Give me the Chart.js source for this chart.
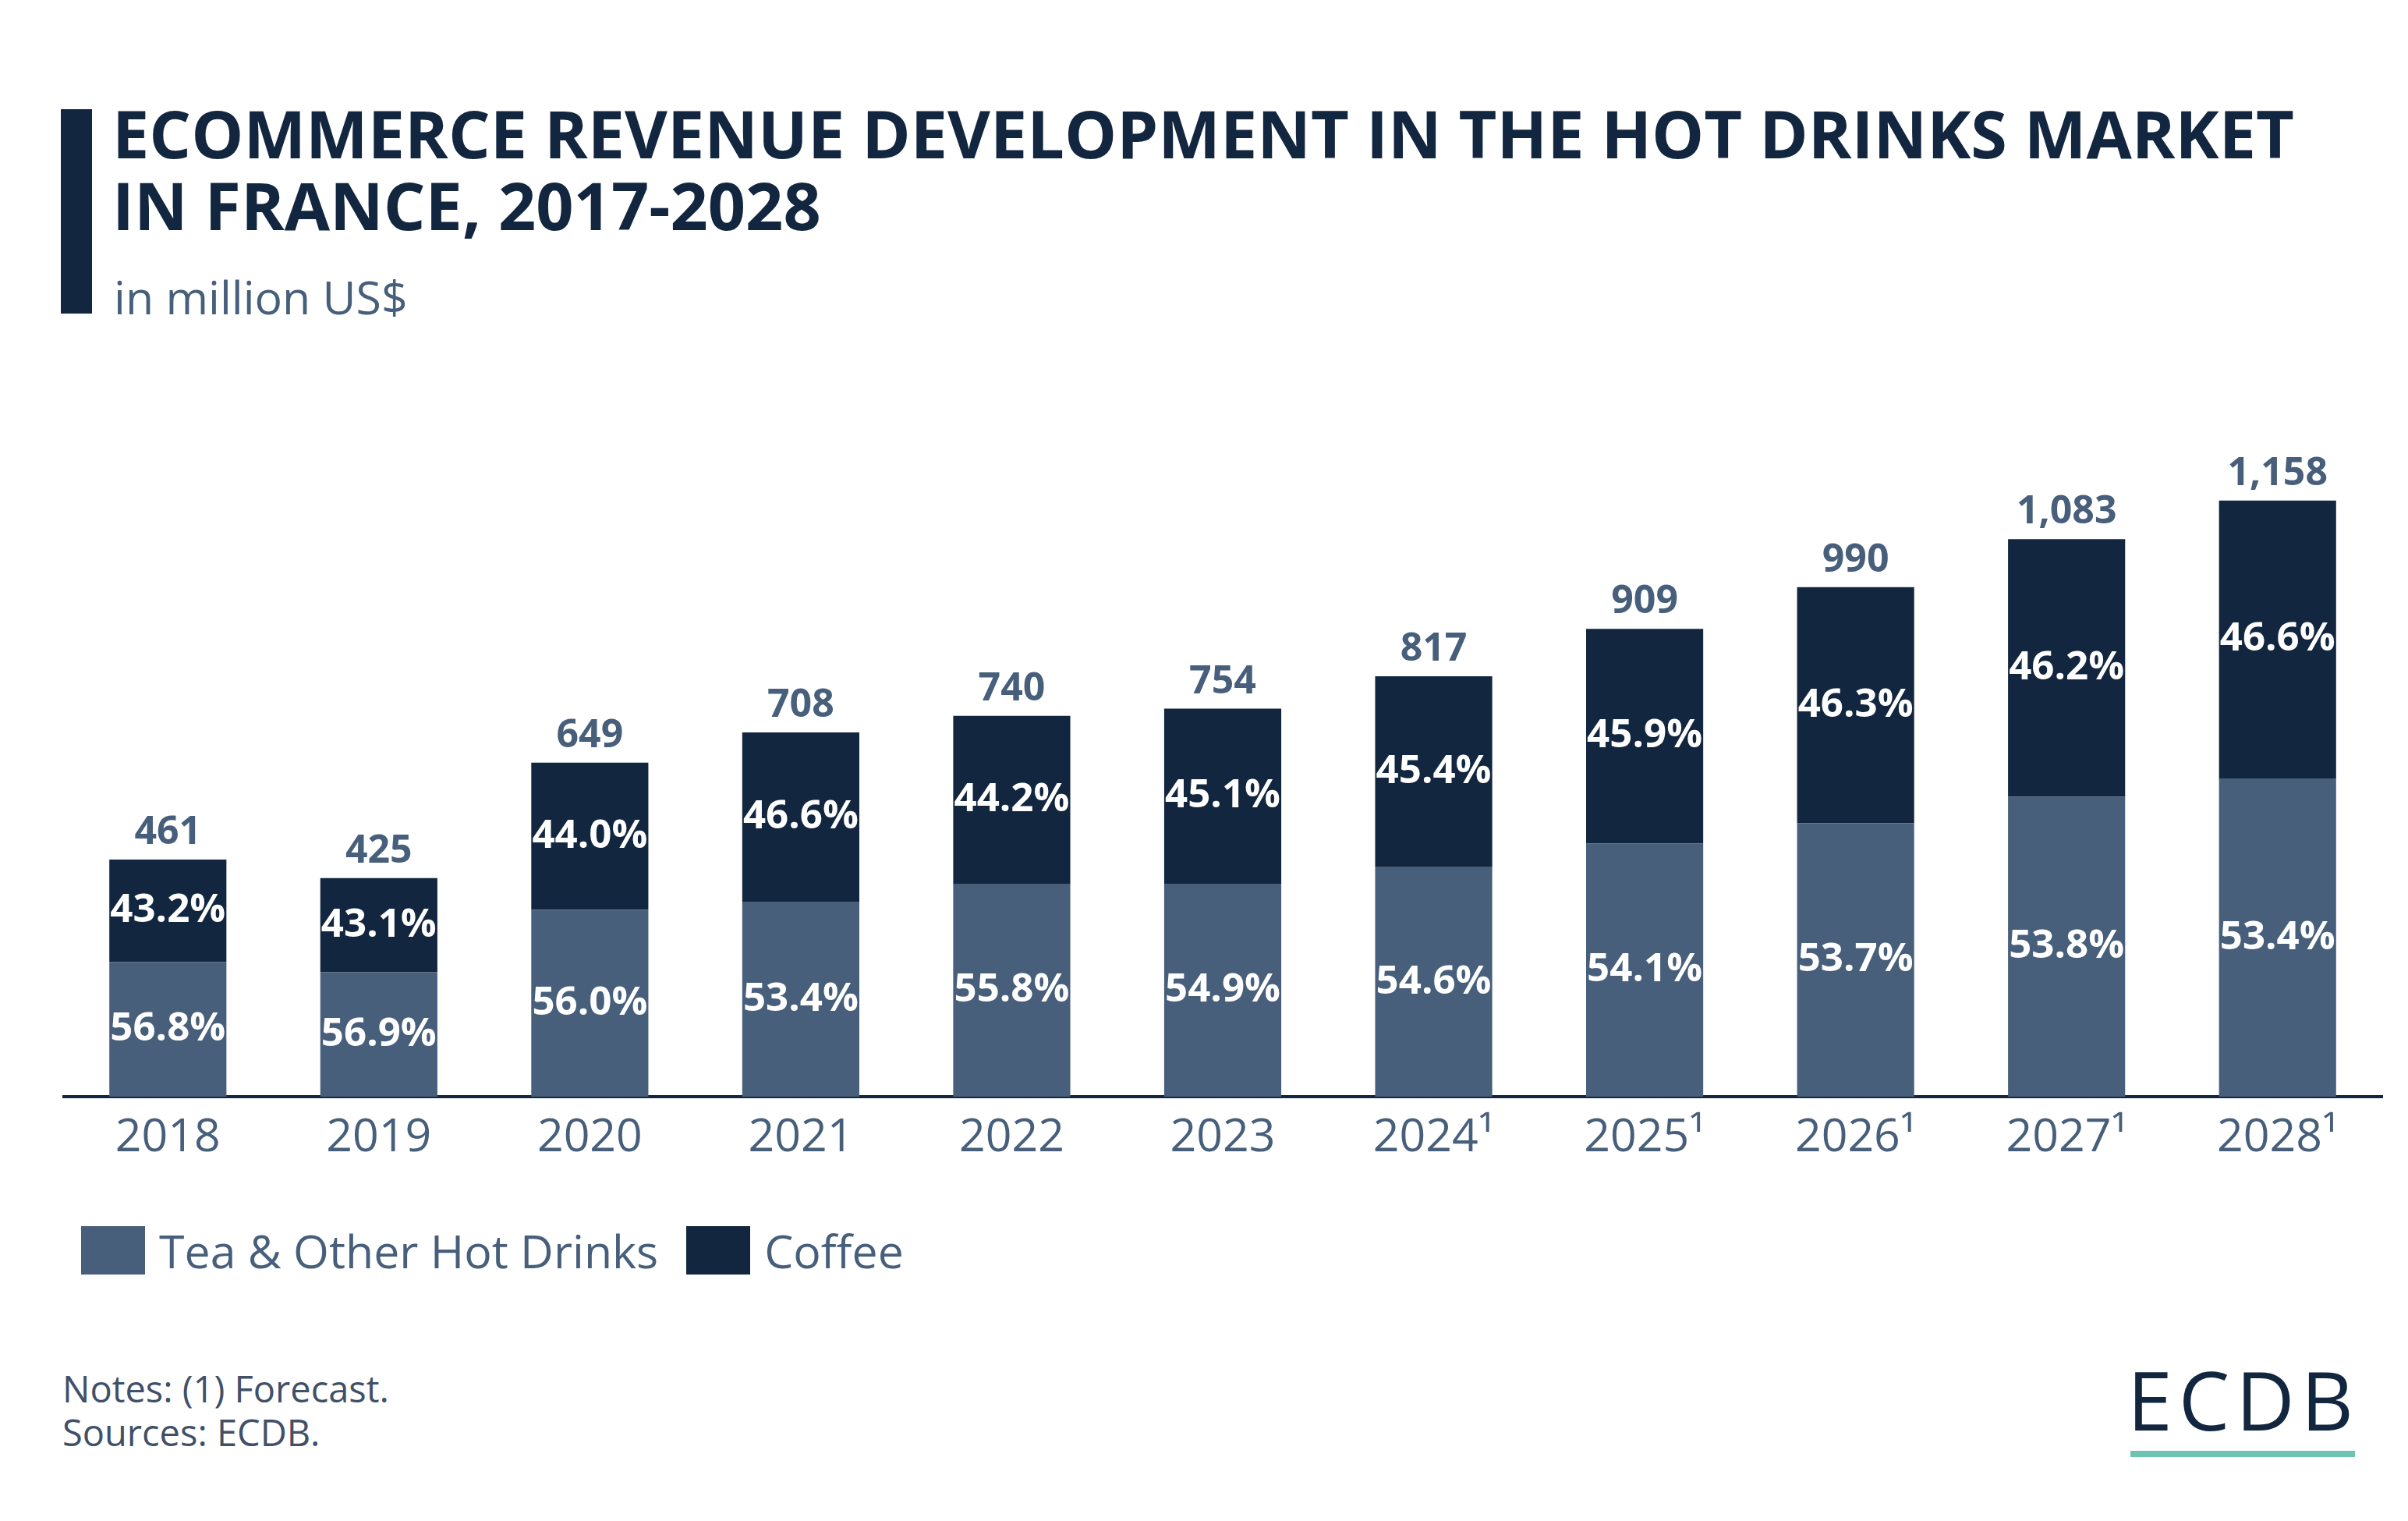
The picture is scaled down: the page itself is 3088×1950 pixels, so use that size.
<!DOCTYPE html>
<html>
<head>
<meta charset="utf-8">
<script src="https://cdn.jsdelivr.net/npm/chart.js@4"></script>
<style>
  body { margin: 0; width: 3088px; height: 1950px; background: #fff; position: relative; overflow: hidden; font-family: "Open Sans", sans-serif; }
  .bar { position: absolute; left: 78px; top: 140px; width: 40px; height: 262px; background: #12263f; }
  .title { position: absolute; left: 144px; top: 125px; font-size: 84.5px; line-height: 92px; font-weight: 700; color: #12263f; white-space: nowrap; }
  .sub { position: absolute; left: 146px; top: 351px; font-size: 59px; line-height: 59px; color: #475f7b; }
  #wrap { position: absolute; left: 80px; top: 560px; width: 2976px; height: 953px; }
  .legend { position: absolute; top: 1572px; left: 104px; height: 62px; display: flex; align-items: center; }
  .legend .sw { width: 82px; height: 62px; margin-right: 18px; }
  .legend .lb { font-size: 59px; color: #475f7b; margin-right: 36px; line-height: 62px; }
  .notes { position: absolute; left: 80px; top: 1752px; font-size: 47px; line-height: 56px; color: #3f5068; }
  .logo { position: absolute; left: 2728px; top: 1742px; font-size: 104px; line-height: 104px; color: #12263f; letter-spacing: 8px; }
  .logo-line { position: absolute; left: 2732px; top: 1860px; width: 288px; height: 8px; background: #6fc3b2; }
</style>
</head>
<body>
<div class="bar"></div>
<div class="title">ECOMMERCE REVENUE DEVELOPMENT IN THE HOT DRINKS MARKET<br>IN FRANCE, 2017-2028</div>
<div class="sub">in million US$</div>
<div id="wrap"><canvas id="chart"></canvas></div>
<div class="legend" id="legend"></div>
<div class="notes">Notes: (1) Forecast.<br>Sources: ECDB.</div>
<div class="logo">ECDB</div>
<div class="logo-line"></div>
<script>
// datos
const years = ["2018", "2019", "2020", "2021", "2022", "2023", "2024¹", "2025¹", "2026¹", "2027¹", "2028¹"];
const totals = [461, 425, 649, 708, 740, 754, 817, 909, 990, 1083, 1158];
const teaShare = [56.8, 56.9, 56.0, 53.4, 55.8, 54.9, 54.6, 54.1, 53.7, 53.8, 53.4];
const coffeeShare = [43.2, 43.1, 44.0, 46.6, 44.2, 45.1, 45.4, 45.9, 46.3, 46.2, 46.6];
const seriesNames = ["Tea & Other Hot Drinks", "Coffee"];
const colors = ["#475f7b", "#12263f"];

const teaValues = totals.map((t, i) => t * teaShare[i] / 100);
const coffeeValues = totals.map((t, i) => t * coffeeShare[i] / 100);

// leyenda
const legend = document.getElementById("legend");
seriesNames.forEach((name, i) => {
  legend.innerHTML += '<div class="sw" style="background:' + colors[i] + '"></div><div class="lb">' + name + '</div>';
});

const labelPlugin = {
  id: "barLabels",
  afterDatasetsDraw(chart) {
    const ctx = chart.ctx;
    ctx.save();
    ctx.textAlign = "center";
    ctx.textBaseline = "middle";
    ctx.font = "bold 51px 'Open Sans'";
    ctx.fillStyle = "#ffffff";
    [teaShare, coffeeShare].forEach((shares, d) => {
      chart.getDatasetMeta(d).data.forEach((bar, i) => {
        ctx.fillText(shares[i].toFixed(1) + "%", bar.x, (bar.y + bar.base) / 2);
      });
    });
    const y = chart.scales.y;
    ctx.fillStyle = "#475f7b";
    ctx.font = "bold 50px 'Open Sans'";
    ctx.textBaseline = "alphabetic";
    chart.getDatasetMeta(1).data.forEach((bar, i) => {
      ctx.fillText(totals[i].toLocaleString("en-US"), bar.x, y.getPixelForValue(totals[i]) - 20);
    });
    ctx.restore();
  }
};

Chart.defaults.font.family = "'Open Sans'";

new Chart(document.getElementById("chart").getContext("2d"), {
  type: "bar",
  data: {
    labels: years,
    datasets: [
      { label: seriesNames[0], data: teaValues, backgroundColor: colors[0] },
      { label: seriesNames[1], data: coffeeValues, backgroundColor: colors[1] }
    ]
  },
  options: {
    responsive: true,
    maintainAspectRatio: false,
    animation: false,
    categoryPercentage: 1,
    barPercentage: 0.555,
    layout: { padding: 0 },
    plugins: {
      legend: { display: false },
      tooltip: { enabled: false }
    },
    scales: {
      x: {
        stacked: true,
        grid: { display: false, drawTicks: false },
        border: { color: "#12263f", width: 4 },
        ticks: { color: "#475f7b", font: { size: 59 }, padding: 18 }
      },
      y: {
        stacked: true,
        display: false,
        min: 0,
        max: 1282
      }
    }
  },
  plugins: [labelPlugin]
});
</script>
</body>
</html>
